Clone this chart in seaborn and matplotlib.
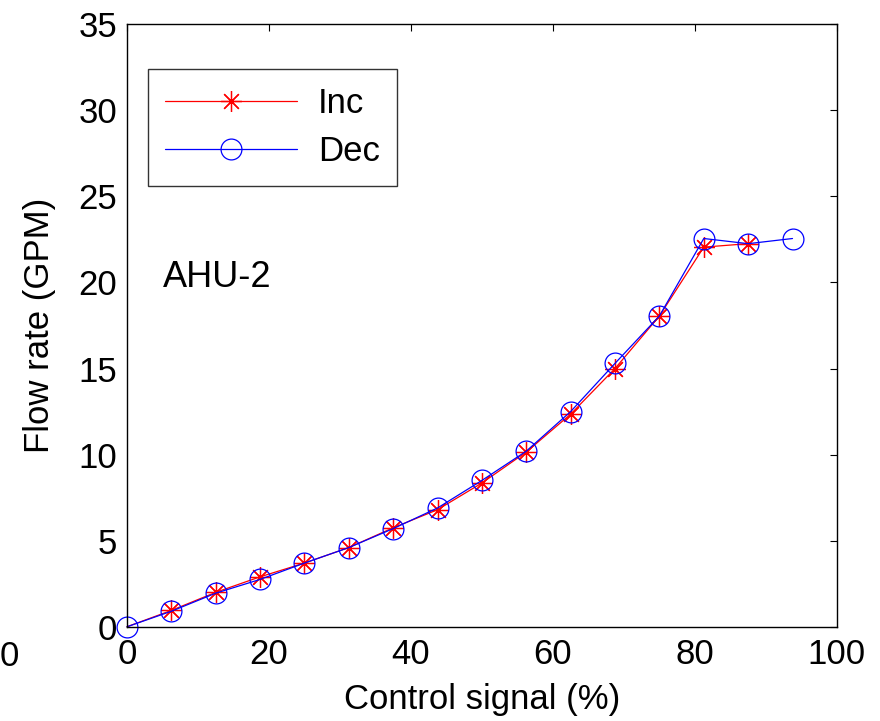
import matplotlib
matplotlib.use("Agg")
import matplotlib.pyplot as plt
import seaborn as sns
import pandas as pd

# Valve characteristic of AHU-2: flow vs. control signal, increasing and decreasing sweeps
signal_inc = [0, 6.25, 12.5, 18.75, 25, 31.25, 37.5, 43.75, 50, 56.25, 62.5, 68.75, 75, 81.25, 87.5]
flow_inc = [0.0, 0.95, 2.0, 2.9, 3.7, 4.6, 5.75, 6.8, 8.35, 10.15, 12.35, 15.0, 18.05, 22.05, 22.25]

signal_dec = [0, 6.25, 12.5, 18.75, 25, 31.25, 37.5, 43.75, 50, 56.25, 62.5, 68.75, 75, 81.25, 87.5, 93.75]
flow_dec = [0.0, 0.9, 1.95, 2.75, 3.7, 4.6, 5.7, 6.9, 8.5, 10.2, 12.5, 15.3, 18.05, 22.55, 22.25, 22.55]

x_ticks = [0, 20, 40, 60, 80, 100]
y_ticks = [0, 5, 10, 15, 20, 25, 30, 35]

sns.set_style("white")
plt.rcParams["font.family"] = ["Liberation Sans", "DejaVu Sans"]
plt.rcParams["xtick.direction"] = "in"
plt.rcParams["ytick.direction"] = "in"
for key in ("text.color", "axes.labelcolor", "xtick.color", "ytick.color",
            "xtick.labelcolor", "ytick.labelcolor"):
    plt.rcParams[key] = "black"

fs = 25
fig = plt.figure(figsize=(8.8, 7.21), dpi=100)
ax = fig.add_axes([0.1443, 0.1307, 0.8067, 0.8358])

inc = pd.DataFrame({"signal": signal_inc, "flow": flow_inc})
dec = pd.DataFrame({"signal": signal_dec, "flow": flow_dec})

sns.lineplot(data=inc, x="signal", y="flow", ax=ax, color="#ff0000", lw=0.9,
             marker=(8, 2, 0), markersize=15, markeredgecolor="#ff0000",
             markeredgewidth=0.9, label="Inc", markevery=list(range(1, len(signal_inc))),
             clip_on=False)
sns.lineplot(data=dec, x="signal", y="flow", ax=ax, color="#0000ff", lw=0.9,
             marker="o", markersize=15, markerfacecolor="none", markeredgecolor="#0000ff",
             markeredgewidth=0.9, label="Dec", clip_on=False)

ax.set_xlim(0, 100)
ax.set_ylim(0, 35)
ax.set_xticks(x_ticks)
ax.set_yticks(y_ticks)
ax.tick_params(axis="both", labelsize=fs, length=5, width=0.8, color="black",
               labelcolor="black", top=True, right=True)
ax.tick_params(axis="x", pad=8)
ax.tick_params(axis="y", pad=7)
for s in ax.spines.values():
    s.set_visible(True)
    s.set_color("black")
    s.set_linewidth(1.0)

ax.set_xlabel("Control signal (%)", fontsize=fs, labelpad=9, color="black")
ax.set_ylabel("Flow rate (GPM)", fontsize=fs, labelpad=16, color="black")

ax.text(5.1, 20.3, "AHU-2", fontsize=26, ha="left", va="center", color="black")

leg = ax.legend(loc="upper left", bbox_to_anchor=(0.0296, 0.925), fontsize=fs,
                frameon=True, fancybox=False, edgecolor="black", handlelength=3.8,
                handletextpad=0.6, borderpad=0.5, labelspacing=0.45, borderaxespad=0,
                labelcolor="black")
leg.get_frame().set_linewidth(1.0)

# Tick label of the neighbouring panel at the figure's left edge
fig.text(0.0, 1 - 656 / 721, "0", fontsize=fs, ha="left", va="center", color="black")

fig.savefig("out.png", dpi=100, facecolor="white")
